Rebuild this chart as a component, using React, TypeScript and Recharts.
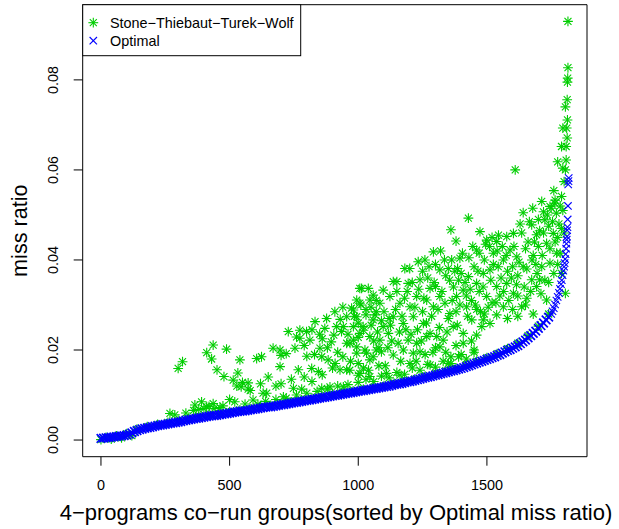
import React from 'react';
import { ScatterChart, Scatter, XAxis, YAxis, ReferenceArea } from 'recharts';

const FONT = "'Liberation Sans', Arial, Helvetica, sans-serif";
const GREEN = '#00CD00';
const BLUE = '#0000FF';

// Optimal miss ratio (per mille), one reading every OPT_STEP groups from group 0
const OPT_STEP = 10;
const optimalMain = [
  0.35, 0.42, 0.5, 0.55, 0.62, 0.7, 0.78, 0.85, 0.92, 1.0,
  1.1, 1.3, 1.6, 1.9, 2.1, 2.3, 2.45, 2.6, 2.7, 2.8,
  2.95, 3.1, 3.2, 3.3, 3.4, 3.5, 3.6, 3.7, 3.8, 3.9,
  4.0, 4.1, 4.25, 4.4, 4.5, 4.6, 4.7, 4.8, 4.9, 5.0,
  5.1, 5.2, 5.3, 5.4, 5.45, 5.5, 5.6, 5.7, 5.8, 5.9,
  6.0, 6.1, 6.2, 6.3, 6.4, 6.45, 6.5, 6.6, 6.7, 6.8,
  6.9, 7.0, 7.1, 7.2, 7.3, 7.35, 7.4, 7.5, 7.6, 7.7,
  7.8, 7.9, 8.0, 8.1, 8.2, 8.3, 8.4, 8.5, 8.6, 8.7,
  8.8, 8.9, 9.0, 9.1, 9.2, 9.3, 9.4, 9.5, 9.6, 9.7,
  9.8, 9.9, 10.0, 10.1, 10.2, 10.3, 10.4, 10.5, 10.6, 10.7,
  10.8, 10.9, 11.0, 11.1, 11.2, 11.3, 11.4, 11.5, 11.6, 11.7,
  11.8, 11.9, 12.0, 12.15, 12.3, 12.4, 12.5, 12.6, 12.75, 12.9,
  13.0, 13.1, 13.25, 13.4, 13.55, 13.7, 13.85, 14.0, 14.1, 14.25,
  14.4, 14.55, 14.7, 14.85, 15.0, 15.15, 15.3, 15.45, 15.6, 15.75,
  15.9, 16.1, 16.3, 16.5, 16.7, 16.9, 17.1, 17.3, 17.5, 17.7,
  17.9, 18.1, 18.3, 18.5, 18.8, 19.0, 19.3, 19.6, 19.9, 20.1,
  20.4, 20.7, 21.0, 21.4, 21.8, 22.2, 22.7, 23.2, 23.7, 24.2,
  24.8, 25.4, 26.0, 26.7, 27.3,
];

// steep end of the optimal curve: [group, per mille]
const optimalTail = [
  [1750, 28.0], [1755, 28.6], [1760, 29.3], [1765, 30.1], [1770, 31.0], [1775, 31.8],
  [1780, 32.7], [1784, 33.6], [1788, 34.6], [1791, 35.5], [1794, 36.6], [1797, 37.6],
  [1800, 38.5], [1802, 39.3], [1804, 40.2], [1806, 41.3], [1808, 42.5], [1809, 43.6],
  [1810, 44.5], [1811, 45.2], [1812, 46.6], [1813, 47.3], [1814, 49.0], [1815, 52.0],
  [1816, 56.8], [1817, 57.5], [1818, 58.2],
];

// Stone-Thiebaut-Turek-Wolf points: [group, per mille]
const sttwNearBand = [
  [0, 0.1], [20, 0.6], [40, 0.2], [60, 0.9], [80, 0.5], [100, 1.4], [120, 1.0], [140, 2.4],
  [180, 3.0], [220, 3.5], [260, 3.9], [300, 4.3], [340, 4.8], [380, 5.2], [420, 5.6], [460, 5.9],
  [500, 6.3], [540, 6.7], [580, 7.0], [620, 7.4], [660, 7.7], [700, 8.1], [740, 8.5], [780, 8.9],
  [820, 9.3], [860, 9.7], [900, 10.1], [940, 10.5], [980, 10.9], [1020, 11.3], [1060, 11.7],
  [1100, 12.1], [1140, 12.6], [1180, 13.1], [1220, 13.6], [1260, 14.2], [1300, 14.8], [1340, 15.4],
  [1380, 16.0], [1420, 16.7], [1460, 17.5], [1500, 18.3], [1540, 19.2], [1580, 20.3], [1620, 21.5],
  [1660, 23.2], [1700, 25.3], [1740, 28.0],
  [1000, 12.8], [1030, 13.5], [1060, 13.0], [1090, 14.2], [1120, 13.8], [1150, 15.0], [1180, 14.6],
  [1210, 16.0], [1240, 15.5], [1270, 16.8], [1300, 16.2], [1330, 17.5], [1360, 17.0], [1390, 18.5],
  [1420, 18.0], [1450, 19.5],
  [330, 6.0], [360, 6.6], [380, 6.8], [400, 7.0], [420, 7.5], [440, 7.0], [500, 9.0], [520, 8.5],
  [560, 8.0], [610, 8.0], [640, 8.6], [680, 9.0], [720, 9.3], [760, 10.0], [800, 10.4], [840, 10.8],
  [880, 11.3], [920, 12.0], [960, 12.3],
];

const sttwCloud = [
  [268, 5.9], [287, 5.6], [300, 15.9], [317, 17.4], [365, 7.8], [391, 8.5], [411, 7.4], [411, 19.4],
  [430, 18.0], [436, 21.1], [436, 8.1], [451, 15.6], [463, 7.2], [474, 7.6], [478, 14.1], [488, 20.2],
  [514, 13.3], [528, 12.0], [532, 14.9], [540, 17.8], [545, 11.8], [550, 12.8], [572, 12.7], [572, 11.3],
  [580, 11.0], [591, 8.9], [605, 18.1], [624, 18.5], [630, 10.4], [644, 10.4], [669, 20.4], [696, 20.0],
  [696, 16.3], [700, 18.8], [709, 9.6], [720, 19.2], [728, 24.1], [748, 11.5], [754, 20.4], [760, 22.9],
  [767, 15.6], [773, 22.6], [773, 24.4], [780, 11.3], [790, 21.0], [799, 24.1], [800, 18.6], [812, 22.2],
  [819, 15.9], [830, 19.0], [832, 26.3], [845, 15.2], [851, 20.4], [858, 18.5], [858, 11.5], [860, 22.5],
  [870, 24.8], [877, 27.0], [883, 17.8], [890, 11.8], [895, 21.8], [905, 23.3], [909, 28.5], [916, 25.2],
  [920, 19.5], [929, 15.6], [930, 26.8], [935, 24.1], [942, 25.2], [942, 11.8], [955, 27.4], [955, 21.5],
  [955, 15.6], [960, 23.5], [967, 15.5], [968, 21.5], [974, 29.3], [981, 25.2], [981, 28.9], [981, 22.2],
  [985, 27.5], [994, 31.1], [994, 19.3], [994, 27.4], [994, 20.7], [1000, 14.4], [1000, 22.8],
  [1006, 33.7], [1006, 30.4], [1006, 23.7], [1006, 14.8], [1010, 30.0], [1013, 33.7], [1019, 25.2],
  [1020, 24.4], [1026, 20.0], [1030, 27.8], [1032, 19.3], [1039, 33.7], [1045, 17.8], [1045, 14.1],
  [1045, 31.1], [1045, 23.0], [1050, 29.5], [1058, 32.2], [1058, 26.7], [1058, 18.5], [1060, 22.0],
  [1065, 27.8], [1070, 31.0], [1070, 20.0], [1075, 24.0], [1080, 20.5], [1084, 30.4], [1084, 22.2],
  [1090, 26.5], [1090, 19.6], [1097, 33.3], [1097, 25.2], [1100, 28.5], [1110, 14.8], [1117, 23.7],
  [1120, 27.0], [1123, 31.9], [1130, 22.0], [1136, 35.2], [1136, 27.4], [1136, 18.9], [1150, 35.2],
  [1150, 33.0], [1155, 21.5], [1160, 24.0], [1162, 30.4], [1162, 14.4], [1175, 25.9], [1175, 20.0],
  [1180, 31.5], [1181, 38.1], [1194, 34.8], [1194, 22.2], [1200, 38.1], [1201, 29.6], [1201, 17.0],
  [1210, 35.0], [1214, 27.4], [1214, 19.3], [1227, 31.9], [1227, 21.5], [1230, 24.5], [1233, 39.6],
  [1240, 35.6], [1240, 19.6], [1250, 37.5], [1250, 28.5], [1253, 25.9], [1259, 40.0], [1260, 19.0],
  [1266, 31.1], [1266, 23.0], [1270, 36.0], [1279, 33.7], [1279, 23.7], [1279, 16.7], [1292, 41.8],
  [1292, 29.6], [1300, 34.1], [1300, 39.0], [1300, 20.5], [1305, 23.0], [1317, 37.8], [1317, 31.9],
  [1317, 20.7], [1320, 42.0], [1330, 22.2], [1337, 30.4], [1340, 36.5], [1340, 19.5], [1350, 38.1],
  [1350, 27.0], [1350, 17.0], [1356, 28.1], [1360, 46.7], [1360, 18.5], [1363, 40.0], [1369, 25.2],
  [1370, 34.0], [1380, 44.2], [1380, 28.5], [1380, 21.0], [1382, 31.9], [1386, 38.1], [1390, 35.5],
  [1395, 40.4], [1400, 37.0], [1400, 19.0], [1408, 33.3], [1408, 23.7], [1408, 21.5], [1420, 32.0],
  [1421, 29.6], [1428, 49.3], [1428, 36.3], [1430, 40.5], [1440, 31.0], [1440, 22.0], [1441, 26.7],
  [1450, 38.5], [1450, 20.0], [1460, 42.2], [1460, 34.8], [1460, 29.0], [1460, 23.3], [1470, 41.5],
  [1470, 33.0], [1473, 46.3], [1480, 25.2], [1486, 37.0], [1486, 26.7], [1490, 40.0], [1490, 28.0],
  [1499, 44.4], [1499, 31.9], [1510, 43.0], [1512, 37.8], [1512, 25.9], [1520, 45.0], [1520, 30.5],
  [1525, 41.5], [1538, 44.1], [1538, 34.1], [1538, 27.8], [1540, 42.0], [1544, 38.5], [1550, 32.0],
  [1560, 43.0], [1564, 40.0], [1564, 29.6], [1577, 45.2], [1577, 34.8], [1580, 37.5], [1580, 27.0],
  [1590, 42.2], [1600, 38.5], [1600, 29.0], [1603, 45.9], [1603, 32.6], [1610, 60.0], [1616, 40.7],
  [1620, 36.5], [1620, 32.0], [1620, 27.5], [1629, 48.0], [1635, 29.6], [1641, 50.5], [1641, 38.5],
  [1650, 42.5], [1650, 30.0], [1655, 31.5], [1660, 44.0], [1670, 33.0], [1674, 47.8], [1674, 35.6],
  [1678, 51.5], [1680, 41.0], [1680, 28.0], [1690, 39.0], [1693, 45.6], [1693, 34.1], [1700, 43.0],
  [1700, 49.0], [1705, 35.6], [1710, 32.5], [1713, 53.0], [1713, 38.5], [1720, 46.0], [1720, 50.7],
  [1725, 48.9], [1732, 43.7], [1732, 31.1], [1740, 47.5], [1740, 35.0], [1745, 51.9], [1745, 39.3],
  [1750, 51.5], [1758, 45.9], [1760, 37.0], [1760, 55.4], [1764, 52.6], [1765, 53.3], [1770, 50.4],
  [1771, 41.5], [1775, 45.0], [1780, 48.0],
  // denser middle of the cloud
  [1105, 16.5], [1115, 20.5], [1125, 25.5], [1145, 29.0], [1165, 17.5], [1170, 27.5], [1185, 24.5],
  [1190, 33.0], [1205, 23.5], [1220, 29.5], [1225, 17.5], [1235, 33.5], [1245, 22.0], [1255, 31.5],
  [1265, 26.0], [1275, 38.5], [1285, 27.5], [1290, 19.5], [1295, 35.0], [1310, 29.0], [1315, 25.0],
  [1325, 33.0], [1335, 40.0], [1345, 24.0], [1355, 35.5], [1365, 31.0], [1375, 37.5], [1385, 25.5],
  [1395, 30.0], [1405, 41.5], [1415, 35.0], [1425, 27.5], [1435, 33.5], [1445, 43.0], [1455, 30.0],
  [1465, 37.5], [1475, 28.5], [1485, 34.0], [1495, 43.5], [1505, 29.5], [1515, 35.5], [1525, 39.0],
  [1535, 30.5], [1545, 45.5], [1555, 36.0], [1565, 33.0], [1575, 41.0], [1585, 31.0], [1595, 36.0],
  [1605, 43.0], [1615, 34.5], [1625, 39.5], [1635, 46.0], [1645, 34.0], [1655, 38.0], [1665, 48.5],
  [1675, 40.0], [1685, 44.0], [1695, 37.0], [1705, 46.5], [1715, 41.0], [1725, 35.5], [1735, 50.0],
  [1745, 42.5], [1755, 48.5], [1765, 44.0], [1775, 39.0], [1785, 52.0], [1790, 47.0],
  [1000, 17.0], [1020, 16.0], [1040, 15.5], [1080, 16.5], [700, 12.5], [740, 13.5], [790, 14.0],
  [820, 13.0], [860, 14.5], [900, 16.0], [940, 18.5], [970, 17.5], [650, 14.0], [680, 12.0],
  [620, 12.5], [880, 20.5], [910, 17.0], [1050, 25.5], [1030, 29.0], [1070, 28.5], [940, 29.5],
  [1000, 26.0], [850, 23.5], [820, 24.5],
];

const sttwTail = [
  [1815, 93.0], [1815, 82.7], [1814, 80.4], [1813, 79.5], [1812, 75.6], [1805, 74.0], [1813, 71.1],
  [1795, 69.3], [1810, 69.3], [1812, 67.1], [1790, 65.2], [1808, 65.2], [1808, 62.2], [1775, 61.8],
  [1795, 60.4], [1805, 60.0], [1800, 57.4], [1790, 54.1], [1795, 51.0], [1800, 46.0], [1785, 41.5],
  [1790, 37.0], [1805, 32.6],
];

const xTicks = [0, 500, 1000, 1500];
const yTicks = [0, 0.02, 0.04, 0.06, 0.08];
const X_DOMAIN: [number, number] = [-71, 1889];
const Y_DOMAIN: [number, number] = [-0.0037, 0.0967];

const toPoint = ([x, pm]: number[]) => ({ x, y: pm / 1000 });

const optimalBand = optimalMain.map((pm, i) => ({ x: i * OPT_STEP, y: pm / 1000 }));
const optimalEnd = optimalTail.map(toPoint);
const sttwData = [...sttwNearBand, ...sttwCloud, ...sttwTail].map(toPoint);

function Asterisk(props: any) {
  const { cx, cy } = props;
  const a = 4.9;
  const d = 3.5;
  return (
    <g stroke={GREEN} strokeWidth={1.1}>
      <line x1={cx - a} y1={cy} x2={cx + a} y2={cy} />
      <line x1={cx} y1={cy - a} x2={cx} y2={cy + a} />
      <line x1={cx - d} y1={cy - d} x2={cx + d} y2={cy + d} />
      <line x1={cx - d} y1={cy + d} x2={cx + d} y2={cy - d} />
    </g>
  );
}

function Cross(props: any) {
  const { cx, cy, d = 3.7, w = 1.1 } = props;
  return (
    <g stroke={BLUE} strokeWidth={w}>
      <line x1={cx - d} y1={cy - d} x2={cx + d} y2={cy + d} />
      <line x1={cx - d} y1={cy + d} x2={cx + d} y2={cy - d} />
    </g>
  );
}

function YTick(props: any) {
  const { y, payload } = props;
  return (
    <text
      x={58}
      y={y}
      transform={`rotate(-90, 58, ${y})`}
      textAnchor="middle"
      fontSize={14.4}
      fontFamily={FONT}
      fill="#000"
    >
      {payload.value.toFixed(2)}
    </text>
  );
}

export default function App() {
  return (
    <div style={{ position: 'absolute', left: 0, top: 0, width: 619, height: 529, background: '#fff' }}>
      <ScatterChart width={619} height={529} margin={{ top: 4.7, right: 32, bottom: 32.3, left: 32.7 }}>
        <XAxis
          type="number"
          dataKey="x"
          domain={X_DOMAIN}
          ticks={xTicks}
          allowDataOverflow
          axisLine={false}
          tickLine={{ stroke: '#000' }}
          tickSize={9}
          tickMargin={14}
          height={40}
          tick={{ fill: '#000', fontSize: 14.4, fontFamily: FONT }}
        />
        <YAxis
          type="number"
          dataKey="y"
          domain={Y_DOMAIN}
          ticks={yTicks}
          allowDataOverflow
          axisLine={false}
          tickLine={{ stroke: '#000' }}
          tickSize={9}
          width={50}
          tick={<YTick />}
        />
        <Scatter data={sttwData} shape={<Asterisk />} isAnimationActive={false} />
        <Scatter data={optimalBand} shape={<Cross d={4.3} w={1.7} />} isAnimationActive={false} />
        <Scatter data={optimalEnd} shape={<Cross />} isAnimationActive={false} />
        <ReferenceArea
          x1={X_DOMAIN[0]}
          x2={X_DOMAIN[1]}
          y1={Y_DOMAIN[0]}
          y2={Y_DOMAIN[1]}
          fill="none"
          stroke="#000"
          strokeWidth={1}
          ifOverflow="visible"
        />
      </ScatterChart>
      <svg
        width={619}
        height={529}
        style={{ position: 'absolute', left: 0, top: 0, pointerEvents: 'none' }}
        fontFamily={FONT}
      >
        <rect x={82.7} y={4.7} width={218} height={51} fill="#fff" stroke="#000" strokeWidth={1} />
        <Asterisk cx={93.3} cy={22.7} />
        <Cross cx={93.3} cy={40.7} />
        <text x={110} y={27.9} fontSize={14.4} fill="#000">
          Stone−Thiebaut−Turek−Wolf
        </text>
        <text x={110} y={45.9} fontSize={14.4} fill="#000">
          Optimal
        </text>
        <text x={336} y={520} fontSize={22} textAnchor="middle" fill="#000">
          4−programs co−run groups(sorted by Optimal miss ratio)
        </text>
        <text x={27} y={230.7} fontSize={21.6} textAnchor="middle" fill="#000" transform="rotate(-90, 27, 230.7)">
          miss ratio
        </text>
      </svg>
    </div>
  );
}
